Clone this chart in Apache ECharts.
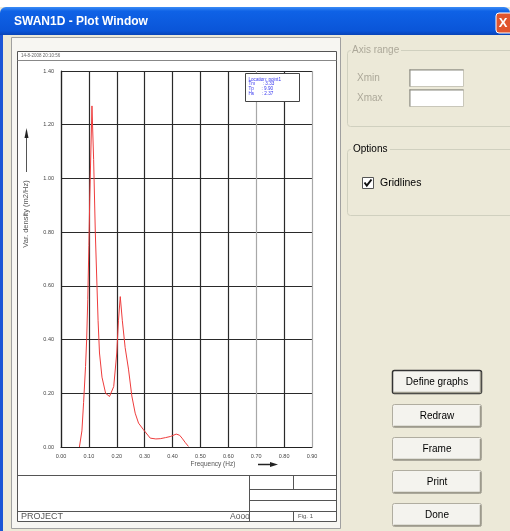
<!DOCTYPE html>
<html><head><meta charset="utf-8">
<script src="https://cdn.jsdelivr.net/npm/echarts@6/dist/echarts.min.js"></script>
<style>html,body{margin:0;padding:0;background:#ECE9D8;overflow:hidden}#c{width:510px;height:531px}</style>
</head><body><div id="c"></div>
<script>
// ---- data ----
const freq = [0.066,0.075,0.081,0.088,0.092,0.096,0.100,0.103,0.106,0.111,0.117,0.123,0.129,0.133,0.138,0.147,0.160,0.174,0.189,0.200,0.206,0.2125,0.220,0.230,0.242,0.254,0.266,0.278,0.296,0.320,0.340,0.356,0.375,0.392,0.413,0.425,0.434,0.446,0.457];
const density = [0.000,0.060,0.165,0.300,0.400,0.550,0.750,0.920,1.050,1.270,1.070,0.800,0.600,0.470,0.350,0.260,0.200,0.188,0.225,0.350,0.470,0.560,0.470,0.370,0.290,0.190,0.126,0.089,0.064,0.033,0.030,0.031,0.035,0.039,0.048,0.044,0.033,0.016,0.002];
const xTickLabels = ['0.00','0.10','0.20','0.30','0.40','0.50','0.60','0.70','0.80','0.90'];
const yTickLabels = ['0.00','0.20','0.40','0.60','0.80','1.00','1.20','1.40'];
const infoLines = ['Location: point1','Tm      : 3.33','Tp      : 9.90','Hs      : 2.37'];
const buttonLabels = ['Define graphs','Redraw','Frame','Print','Done'];
const windowTitle = 'SWAN1D - Plot Window';
const xName = 'Frequency (Hz)';
const yName = 'Var. density (m2/Hz)';
const stamp = '14-8-2008 20:10:56';

const F = 'Liberation Sans, Arial, sans-serif';
const chart = echarts.init(document.getElementById('c'), null, {renderer:'canvas'});

const g = [];
// window background
g.push({type:'rect', z:-20, shape:{x:0,y:0,width:510,height:531}, style:{fill:'#ECE9D8'}});
g.push({type:'rect', z:-19, shape:{x:0,y:0,width:510,height:7}, style:{fill:'#ffffff'}});
// title bar
g.push({type:'rect', z:-18, shape:{x:0,y:7,width:510,height:28,r:[6,6,0,0]},
  style:{fill:new echarts.graphic.LinearGradient(0,0,0,1,[{offset:0,color:'#3a8cf6'},{offset:0.15,color:'#0f62e6'},{offset:0.85,color:'#0a55d8'},{offset:1,color:'#0844b8'}])}});
g.push({type:'text', z:-17, style:{x:14,y:22,text:windowTitle,fill:'#ffffff',font:'bold 12px '+F,textVerticalAlign:'middle'}});
g.push({type:'rect', z:-17, shape:{x:496,y:13,width:20,height:20,r:3}, style:{fill:'#e0552e',stroke:'#ffffff',lineWidth:1}});
g.push({type:'text', z:-16, style:{x:503,y:23,text:'X',fill:'#ffffff',font:'bold 13px '+F,textAlign:'center',textVerticalAlign:'middle'}});
// left window border
g.push({type:'rect', z:-18, shape:{x:0,y:35,width:3,height:496}, style:{fill:'#1a55d6'}});

// plot paper
g.push({type:'rect', z:-15, shape:{x:11.5,y:37.5,width:329,height:491}, style:{fill:'#f7f6f2',stroke:'#a0a0a0',lineWidth:1}});
g.push({type:'rect', z:-14, shape:{x:17.5,y:51.5,width:319,height:470}, style:{fill:'#ffffff',stroke:'#555555',lineWidth:1}});
const L = (x1,y1,x2,y2,c,w)=>({type:'line', z:-13, shape:{x1,y1,x2,y2}, style:{stroke:c||'#555555',lineWidth:w||1}});
g.push(L(17.5,60.5,336.5,60.5,'#888888'));
g.push({type:'text', z:-13, style:{x:21,y:56,text:stamp,fill:'#666666',font:'4.5px '+F,textVerticalAlign:'middle'}});
g.push(L(17.5,475.5,336.5,475.5));
g.push(L(249.5,475.5,249.5,521.5));
g.push(L(249.5,489.5,336.5,489.5));
g.push(L(249.5,500.5,336.5,500.5));
g.push(L(17.5,511.5,336.5,511.5));
g.push(L(293.5,475.5,293.5,489.5));
g.push(L(293.5,511.5,293.5,521.5));
g.push({type:'text', z:-13, style:{x:21,y:516.5,text:'PROJECT',fill:'#555555',font:'9px '+F,textVerticalAlign:'middle'}});
g.push({type:'text', z:-13, style:{x:230,y:516.5,text:'Aooo',fill:'#555555',font:'8.5px '+F,textVerticalAlign:'middle'}});
g.push({type:'text', z:-13, style:{x:298,y:516.5,text:'Fig. 1',fill:'#555555',font:'6px '+F,textVerticalAlign:'middle'}});

// axis names & arrows
g.push({type:'text', z:5, style:{x:213,y:464.5,text:xName,fill:'#555555',font:'6.5px '+F,textAlign:'center',textVerticalAlign:'middle'}});
g.push(L(258,464.5,272,464.5,'#222222',1.5));
g.push({type:'polygon', z:5, shape:{points:[[270,462],[278,464.5],[270,467]]}, style:{fill:'#222222'}});
g.push({type:'text', z:5, rotation:Math.PI/2, x:25.5, y:214, style:{x:0,y:0,text:yName,fill:'#555555',font:'7.5px '+F,textAlign:'center',textVerticalAlign:'middle'}});
g.push(L(26.5,136,26.5,172,'#555555',1));
g.push({type:'polygon', z:5, shape:{points:[[24.5,138],[26.5,128],[28.5,138]]}, style:{fill:'#222222'}});

// info box
g.push({type:'rect', z:50, shape:{x:245.5,y:73.5,width:54,height:28}, style:{fill:'#ffffff',stroke:'#444444',lineWidth:1}});
infoLines.forEach((t,i)=>g.push({type:'text', z:51, style:{x:248.5,y:79.5+i*4.7,text:t,fill:'#3333ee',font:'4.6px '+F,textVerticalAlign:'middle'}}));

// right panel: Axis range group
g.push({type:'rect', z:-15, shape:{x:347.5,y:50.5,width:170,height:76,r:3}, style:{fill:'none',stroke:'#d0d0bf',lineWidth:1}});
g.push({type:'rect', z:-14, shape:{x:351,y:44,width:50,height:12}, style:{fill:'#ECE9D8'}});
g.push({type:'text', z:-13, style:{x:352,y:50,text:'Axis range',fill:'#aca899',font:'10px '+F,textVerticalAlign:'middle'}});
g.push({type:'text', z:-13, style:{x:357,y:78,text:'Xmin',fill:'#aca899',font:'10px '+F,textVerticalAlign:'middle'}});
g.push({type:'text', z:-13, style:{x:357,y:98,text:'Xmax',fill:'#aca899',font:'10px '+F,textVerticalAlign:'middle'}});
[[409.5,69.5],[409.5,89.5]].forEach(p=>{
  g.push({type:'rect', z:-13, shape:{x:p[0],y:p[1],width:54,height:17}, style:{fill:'#ffffff',stroke:'#c9c7ba',lineWidth:1}});
  g.push(L(p[0],p[1]+0.5,p[0]+54,p[1]+0.5,'#8a8a80',1));
  g.push(L(p[0]+0.5,p[1],p[0]+0.5,p[1]+17,'#8a8a80',1));
});
// Options group
g.push({type:'rect', z:-15, shape:{x:347.5,y:149.5,width:170,height:66,r:3}, style:{fill:'none',stroke:'#d0d0bf',lineWidth:1}});
g.push({type:'rect', z:-14, shape:{x:351,y:143,width:39,height:12}, style:{fill:'#ECE9D8'}});
g.push({type:'text', z:-13, style:{x:353,y:149.5,text:'Options',fill:'#000000',font:'10px '+F,textVerticalAlign:'middle'}});
g.push({type:'rect', z:-13, shape:{x:362.5,y:177.5,width:11,height:11}, style:{fill:'#ffffff',stroke:'#555555',lineWidth:1}});
g.push({type:'polyline', z:-12, shape:{points:[[364.5,182.5],[366.8,185.5],[371.5,179.5]]}, style:{stroke:'#111111',lineWidth:2,fill:'none'}});
g.push({type:'text', z:-13, style:{x:380,y:183,text:'Gridlines',fill:'#000000',font:'10.5px '+F,textVerticalAlign:'middle'}});

// buttons
const btnY = [370,404,437,470,503];
buttonLabels.forEach((t,i)=>{
  const y = btnY[i];
  g.push({type:'rect', z:-13, shape:{x:392.5,y:y+0.5,width:89,height:23,r:2}, style:{fill:'#f4f3ee',stroke:i===0?'#333333':'#b0ada0',lineWidth:i===0?1.5:1}});
  g.push(L(393.5,y+22.5,481,y+22.5,'#9d9a8c',1.5));
  g.push(L(480.5,y+2,480.5,y+23,'#9d9a8c',1.5));
  g.push({type:'text', z:-12, style:{x:437,y:y+12,text:t,fill:'#000000',font:'10px '+F,textAlign:'center',textVerticalAlign:'middle'}});
});

const gridCol = '#2a2a2a', lightCol = '#a8a8a8';
const option = {
  animation:false,
  backgroundColor:'transparent',
  graphic:{elements:g},
  grid:{left:61, top:71, width:251, height:376, containLabel:false},
  xAxis:{type:'value', min:0, max:0.9, interval:0.1,
    axisLine:{show:true, lineStyle:{color:'#222222', width:1.2}},
    axisTick:{show:false},
    axisLabel:{margin:6, color:'#444444', fontSize:5.5, fontFamily:F, formatter:(v)=>xTickLabels[Math.round(v*10)]},
    splitLine:{show:true, lineStyle:{color:[gridCol,gridCol,gridCol,gridCol,gridCol,gridCol,gridCol,lightCol,gridCol,lightCol], width:1.2}}},
  yAxis:{type:'value', min:0, max:1.4, interval:0.2,
    axisLine:{show:true, lineStyle:{color:'#222222', width:1.2}},
    axisTick:{show:false},
    axisLabel:{margin:7, color:'#444444', fontSize:5.5, fontFamily:F, formatter:(v)=>yTickLabels[Math.round(v*5)]},
    splitLine:{show:true, lineStyle:{color:gridCol, width:1.2}}},
  series:[{type:'line', showSymbol:false, smooth:false,
    data:freq.map((f,i)=>[f,density[i]]),
    lineStyle:{color:'#ee3c3c', width:1}}]
};
chart.setOption(option);
</script></body></html>
